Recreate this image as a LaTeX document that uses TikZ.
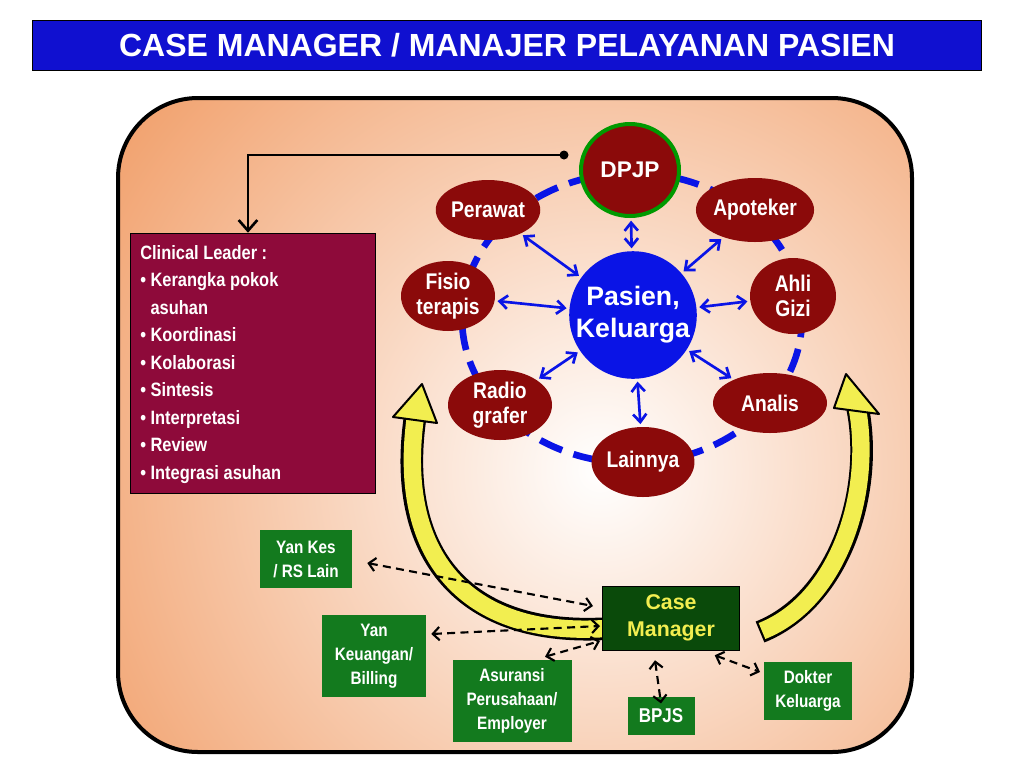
\documentclass[tikz,border=0pt]{standalone}
\usepackage{fontspec}
\setmainfont{Liberation Sans}[FakeStretch=0.85]
\newfontfamily\widef{Liberation Sans}
\usetikzlibrary{arrows.meta,shapes.geometric,patterns}
\definecolor{dred}{HTML}{8B0A0A}
\definecolor{cred}{HTML}{8E0A3A}
\definecolor{gbox}{HTML}{137A1E}
\definecolor{cmbox}{HTML}{0A4A0A}
\definecolor{pblue}{HTML}{0A14E6}
\definecolor{ttl}{HTML}{1010D0}
\definecolor{org}{HTML}{F0985F}
\definecolor{yel}{HTML}{F2EE50}
\begin{document}
\begin{tikzpicture}[x=0.75pt,y=-0.75pt,
 el/.style={ellipse,fill=dred,text=white,font=\bfseries\fontsize{17}{19}\selectfont,align=center,inner sep=0pt},
 gb/.style={fill=gbox,text=white,font=\bfseries\fontsize{13.5}{18}\selectfont,align=center,inner sep=0pt},
 ba/.style={pblue,line width=2pt,{Straight Barb[length=6pt,width=10pt,line width=2pt]}-{Straight Barb[length=6pt,width=10pt,line width=2pt]}},
 da/.style={black,line width=1.6pt,dash pattern=on 6pt off 4pt,{Straight Barb[length=5pt,width=10pt,line width=1.6pt]}-{Straight Barb[length=5pt,width=10pt,line width=1.6pt]}}]
\useasboundingbox (0,0) rectangle (1024,768);
\fill[white] (0,0) rectangle (1024,768);
% title
\node[fill=ttl,draw=black,minimum width=949*0.75pt,minimum height=50*0.75pt,text=white,font=\widef\bfseries\fontsize{24}{26}\selectfont] (title) at (507,45) {CASE MANAGER / MANAJER PELAYANAN PASIEN};
% frame
\begin{scope}
\clip[rounded corners=60pt] (118,98) rectangle (912,752);
\fill[org] (118,98) rectangle (912,752);
\shade[inner color=white,outer color=org] (600,470) circle (650*0.75pt);
\end{scope}
\draw[line width=3pt,rounded corners=60pt] (118,98) rectangle (912,752);
% circle
\draw[pblue,line width=5pt,dash pattern=on 18pt off 9pt] (632,318) ellipse (170*0.75pt and 145*0.75pt);
\node[circle,fill=pblue,minimum size=125*0.75pt,text=white,font=\widef\bfseries\fontsize{20}{24}\selectfont,align=center,inner sep=0pt] (pas) at (633,315) {Pasien,\\Keluarga};
\node[el,draw=green!60!black,line width=3pt,minimum width=98*0.75pt,minimum height=92*0.75pt,font=\widef\bfseries\fontsize{17}{19}\selectfont] (dpjp) at (630,170) {DPJP};
\node[el,minimum width=94*0.75pt,minimum height=60*0.75pt] (per) at (488,210) {Perawat};
\node[el,minimum width=96*0.75pt,minimum height=64*0.75pt] (apo) at (755,210) {Apoteker};
\node[el,minimum width=94*0.75pt,minimum height=70*0.75pt] (fis) at (448,296) {Fisio\\terapis};
\node[el,minimum width=86*0.75pt,minimum height=76*0.75pt] (ahl) at (793,296) {Ahli\\Gizi};
\node[el,minimum width=104*0.75pt,minimum height=70*0.75pt] (rad) at (500,405) {Radio\\grafer};
\node[el,minimum width=114*0.75pt,minimum height=60*0.75pt] (ana) at (770,403) {Analis};
\node[el,minimum width=94*0.75pt,minimum height=70*0.75pt] (lai) at (643,462) {Lainnya};
\foreach \n in {dpjp,per,apo,fis,ahl,rad,ana,lai}{\draw[ba,shorten <=2pt,shorten >=2pt] (pas) -- (\n);}
% clinical leader
\node[draw=black,fill=cred,minimum width=245*0.75pt,minimum height=260*0.75pt] (cl) at (252.5,363) {};
\node[anchor=north west,text=white,font=\bfseries\fontsize{14.5}{20.6}\selectfont,align=left,inner sep=0pt] (cltext) at (140,245) {Clinical Leader :\\
• Kerangka pokok\\\phantom{• }asuhan\\• Koordinasi\\• Kolaborasi\\• Sintesis\\• Interpretasi\\• Review\\• Integrasi asuhan};
\coordinate (dot) at (564,155);
\coordinate (corner) at (248,155);
\fill (dot) circle (4.5*0.75pt);
\draw[line width=2pt,-{Straight Barb[length=8pt,width=14pt,line width=2pt]}] (dot) -- (corner) -- (cl.north -| corner);
% yellow arrows
\draw[line width=17pt,black] (615,628) .. controls (470,640) and (395,560) .. (415,418);
\draw[line width=13pt,yel] (612,628) .. controls (470,640) and (397,560) .. (415,420);
\draw[line width=1.5pt,fill=yel,line join=round] (393,417) -- (422,384) -- (437,423) -- cycle;
\draw[line width=17pt,black] (760,632) .. controls (840,600) and (875,490) .. (857,405);
\draw[line width=13pt,yel] (762,631) .. controls (840,600) and (873,490) .. (857,407);
\draw[line width=1.5pt,fill=yel,line join=round] (834,408) -- (846,374) -- (879,414) -- cycle;
% green boxes
\node[gb,minimum width=92*0.75pt,minimum height=58*0.75pt] (yk) at (306,559) {Yan Kes\\/ RS Lain};
\node[gb,minimum width=104*0.75pt,minimum height=82*0.75pt] (yb) at (374,656) {Yan\\Keuangan/\\Billing};
\node[gb,minimum width=119*0.75pt,minimum height=82*0.75pt] (as) at (512,701) {Asuransi\\Perusahaan/\\Employer};
\node[gb,minimum width=67*0.75pt,minimum height=38*0.75pt,font=\bfseries\fontsize{15}{17}\selectfont] (bp) at (661,716) {BPJS};
\node[gb,minimum width=88*0.75pt,minimum height=58*0.75pt] (dk) at (808,691) {Dokter\\Keluarga};
\node[fill=cmbox,draw=black,minimum width=137*0.75pt,minimum height=64*0.75pt,text=yel,font=\widef\bfseries\fontsize{16}{20}\selectfont,align=center,inner sep=0pt] (cm) at (671,618) {Case\\Manager};
\draw[da] (yk.east) ++(15,4) coordinate (a1) -- (593,606) coordinate (b1);
\draw[da] (yb.east) ++(5,-22) coordinate (a2) -- (600,626);
\draw[da] (as.north) ++(33,-3) coordinate (a3) -- (600,641);
\draw[da] (cm.south) ++(-16,10) coordinate (a4) -- ([yshift=-5pt]bp.north);
\draw[da] (cm.south east) ++(-25,5) coordinate (a5) -- (760,672);
\end{tikzpicture}
\end{document}
